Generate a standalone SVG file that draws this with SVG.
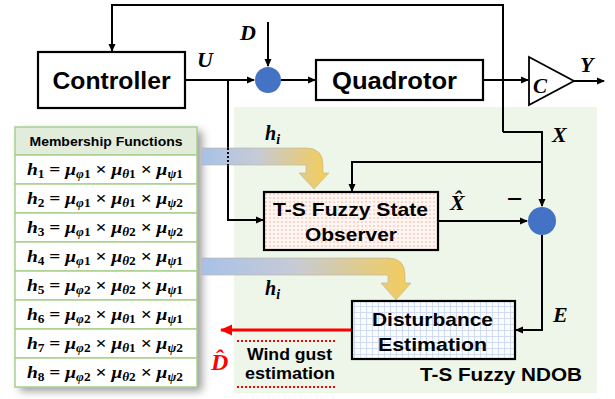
<svg xmlns="http://www.w3.org/2000/svg" width="615" height="399" viewBox="0 0 615 399">
<style>
.ln{fill:none;stroke:#000;stroke-width:2}
.box{fill:#fff;stroke:#000;stroke-width:2.2}
.lbl{font-family:"Liberation Sans",Arial,sans-serif;font-weight:bold;fill:#000;text-anchor:middle}
.math{font-family:"Liberation Serif","Times New Roman",serif;font-weight:bold;font-style:italic;fill:#000}
.eq{font-family:"Liberation Serif","Times New Roman",serif;font-weight:bold;font-size:17.5px;fill:#000}
.it{font-style:italic}
.sub{font-size:12px}
.sum{fill:#4472c4}
.cell{fill:#fff;stroke:#a9d08e;stroke-width:1.5}
</style>
<defs>
<marker id="arr" markerWidth="8" markerHeight="8" refX="7" refY="4" orient="auto" markerUnits="userSpaceOnUse">
<path d="M0,0.5 L8,4 L0,7.5 Z" fill="#000"/>
</marker>
<marker id="arrR" markerWidth="12" markerHeight="12" refX="11" refY="6" orient="auto" markerUnits="userSpaceOnUse">
<path d="M0,0.5 L12,6 L0,11.5 Z" fill="#ff0000"/>
</marker>
<linearGradient id="g1" gradientUnits="userSpaceOnUse" x1="202" y1="0" x2="325" y2="0">
<stop offset="0" stop-color="#a8c1e8"/>
<stop offset="0.45" stop-color="#c6cbd6"/>
<stop offset="1" stop-color="#f2cc5c"/>
</linearGradient>
<linearGradient id="g2" gradientUnits="userSpaceOnUse" x1="202" y1="0" x2="408" y2="0">
<stop offset="0" stop-color="#a8c1e8"/>
<stop offset="0.45" stop-color="#c6cbd6"/>
<stop offset="1" stop-color="#f2cc5c"/>
</linearGradient>
<pattern id="pink" width="4" height="4" patternUnits="userSpaceOnUse">
<rect width="4" height="4" fill="#fff6f2"/>
<circle cx="2" cy="2" r="1.1" fill="#f6cfc4"/>
</pattern>
<pattern id="grid" width="6" height="6" patternUnits="userSpaceOnUse">
<rect width="6" height="6" fill="#fbfcff"/>
<path d="M0,0.5 H6 M0.5,0 V6" stroke="#c9d6ee" stroke-width="0.8"/>
</pattern>
<filter id="sh" x="-10%" y="-10%" width="130%" height="130%">
<feDropShadow dx="5" dy="4" stdDeviation="4" flood-color="#000" flood-opacity="0.4"/>
</filter>
</defs>

<rect id="ndob-bg" x="234" y="107" width="363" height="286" fill="#eef5e9"/>

<g id="connectors">
<path class="ln" d="M503,132 V5 H112 V51" marker-end="url(#arr)"/>
<path class="ln" d="M185,80 H254" marker-end="url(#arr)"/>
<path class="ln" d="M268,22 V66" marker-end="url(#arr)"/>
<path class="ln" d="M281,80 H315" marker-end="url(#arr)"/>
<path class="ln" d="M483,80 H528" marker-end="url(#arr)"/>
<path class="ln" d="M574,81 H604" marker-end="url(#arr)"/>
<path class="ln" d="M503,132 H542 V206" marker-end="url(#arr)"/>
<path class="ln" d="M542,162 H352 V191" marker-end="url(#arr)"/>
<path class="ln" d="M228,80 V220 H263" marker-end="url(#arr)"/>
<path class="ln" d="M438,221 H527" marker-end="url(#arr)"/>
<path class="ln" d="M542,235 V330 H516" marker-end="url(#arr)"/>
<path d="M352,330 H221" fill="none" stroke="#ff0000" stroke-width="3" marker-end="url(#arrR)"/>
<path d="M237,341 H337 M237,387 H337" fill="none" stroke="#ff0000" stroke-width="2" stroke-dasharray="2,2"/>
</g>

<g id="table" filter="url(#sh)">
<rect x="15" y="127" width="182" height="260" fill="#fff"/>
</g>
<g id="table-cells">
<rect x="15" y="127" width="182" height="28" fill="#e2ecdb" stroke="#a9d08e" stroke-width="1.5"/>
<text class="lbl" x="106" y="146" font-size="13.5" textLength="153" lengthAdjust="spacingAndGlyphs">Membership Functions</text>
<rect class="cell" x="15" y="155" width="182" height="29"/>
<rect class="cell" x="15" y="184" width="182" height="29"/>
<rect class="cell" x="15" y="213" width="182" height="29"/>
<rect class="cell" x="15" y="242" width="182" height="29"/>
<rect class="cell" x="15" y="271" width="182" height="29"/>
<rect class="cell" x="15" y="300" width="182" height="29"/>
<rect class="cell" x="15" y="329" width="182" height="29"/>
<rect class="cell" x="15" y="358" width="182" height="29"/>
<text class="eq" x="27" y="175" textLength="156" lengthAdjust="spacingAndGlyphs"><tspan class="it">h</tspan><tspan class="sub" dy="3">1</tspan><tspan dy="-3"> = </tspan><tspan class="it">μ</tspan><tspan class="sub it" dy="3">φ</tspan><tspan class="sub">1</tspan><tspan dy="-3"> × </tspan><tspan class="it">μ</tspan><tspan class="sub it" dy="3">θ</tspan><tspan class="sub">1</tspan><tspan dy="-3"> × </tspan><tspan class="it">μ</tspan><tspan class="sub it" dy="3">ψ</tspan><tspan class="sub">1</tspan></text>
<text class="eq" x="27" y="204" textLength="156" lengthAdjust="spacingAndGlyphs"><tspan class="it">h</tspan><tspan class="sub" dy="3">2</tspan><tspan dy="-3"> = </tspan><tspan class="it">μ</tspan><tspan class="sub it" dy="3">φ</tspan><tspan class="sub">1</tspan><tspan dy="-3"> × </tspan><tspan class="it">μ</tspan><tspan class="sub it" dy="3">θ</tspan><tspan class="sub">1</tspan><tspan dy="-3"> × </tspan><tspan class="it">μ</tspan><tspan class="sub it" dy="3">ψ</tspan><tspan class="sub">2</tspan></text>
<text class="eq" x="27" y="233" textLength="156" lengthAdjust="spacingAndGlyphs"><tspan class="it">h</tspan><tspan class="sub" dy="3">3</tspan><tspan dy="-3"> = </tspan><tspan class="it">μ</tspan><tspan class="sub it" dy="3">φ</tspan><tspan class="sub">1</tspan><tspan dy="-3"> × </tspan><tspan class="it">μ</tspan><tspan class="sub it" dy="3">θ</tspan><tspan class="sub">2</tspan><tspan dy="-3"> × </tspan><tspan class="it">μ</tspan><tspan class="sub it" dy="3">ψ</tspan><tspan class="sub">2</tspan></text>
<text class="eq" x="27" y="262" textLength="156" lengthAdjust="spacingAndGlyphs"><tspan class="it">h</tspan><tspan class="sub" dy="3">4</tspan><tspan dy="-3"> = </tspan><tspan class="it">μ</tspan><tspan class="sub it" dy="3">φ</tspan><tspan class="sub">1</tspan><tspan dy="-3"> × </tspan><tspan class="it">μ</tspan><tspan class="sub it" dy="3">θ</tspan><tspan class="sub">2</tspan><tspan dy="-3"> × </tspan><tspan class="it">μ</tspan><tspan class="sub it" dy="3">ψ</tspan><tspan class="sub">1</tspan></text>
<text class="eq" x="27" y="291" textLength="156" lengthAdjust="spacingAndGlyphs"><tspan class="it">h</tspan><tspan class="sub" dy="3">5</tspan><tspan dy="-3"> = </tspan><tspan class="it">μ</tspan><tspan class="sub it" dy="3">φ</tspan><tspan class="sub">2</tspan><tspan dy="-3"> × </tspan><tspan class="it">μ</tspan><tspan class="sub it" dy="3">θ</tspan><tspan class="sub">2</tspan><tspan dy="-3"> × </tspan><tspan class="it">μ</tspan><tspan class="sub it" dy="3">ψ</tspan><tspan class="sub">1</tspan></text>
<text class="eq" x="27" y="320" textLength="156" lengthAdjust="spacingAndGlyphs"><tspan class="it">h</tspan><tspan class="sub" dy="3">6</tspan><tspan dy="-3"> = </tspan><tspan class="it">μ</tspan><tspan class="sub it" dy="3">φ</tspan><tspan class="sub">2</tspan><tspan dy="-3"> × </tspan><tspan class="it">μ</tspan><tspan class="sub it" dy="3">θ</tspan><tspan class="sub">1</tspan><tspan dy="-3"> × </tspan><tspan class="it">μ</tspan><tspan class="sub it" dy="3">ψ</tspan><tspan class="sub">1</tspan></text>
<text class="eq" x="27" y="349" textLength="156" lengthAdjust="spacingAndGlyphs"><tspan class="it">h</tspan><tspan class="sub" dy="3">7</tspan><tspan dy="-3"> = </tspan><tspan class="it">μ</tspan><tspan class="sub it" dy="3">φ</tspan><tspan class="sub">2</tspan><tspan dy="-3"> × </tspan><tspan class="it">μ</tspan><tspan class="sub it" dy="3">θ</tspan><tspan class="sub">1</tspan><tspan dy="-3"> × </tspan><tspan class="it">μ</tspan><tspan class="sub it" dy="3">ψ</tspan><tspan class="sub">2</tspan></text>
<text class="eq" x="27" y="378" textLength="156" lengthAdjust="spacingAndGlyphs"><tspan class="it">h</tspan><tspan class="sub" dy="3">8</tspan><tspan dy="-3"> = </tspan><tspan class="it">μ</tspan><tspan class="sub it" dy="3">φ</tspan><tspan class="sub">2</tspan><tspan dy="-3"> × </tspan><tspan class="it">μ</tspan><tspan class="sub it" dy="3">θ</tspan><tspan class="sub">2</tspan><tspan dy="-3"> × </tspan><tspan class="it">μ</tspan><tspan class="sub it" dy="3">ψ</tspan><tspan class="sub">2</tspan></text>
</g>

<g id="hi-arrow-1">
<path d="M202,148 H306 Q323,148 323,165 V173 H329 L314,189 L299,173 H306 V165 H202 Z" fill="url(#g1)" stroke="#b9b49a" stroke-width="0.6"/>
<path d="M228,148 V165" stroke="#000" stroke-width="2" stroke-dasharray="2,2"/>
<text class="math" x="265" y="140" font-size="20">h<tspan font-size="14" dy="4">i</tspan></text>
</g>
<g id="hi-arrow-2">
<path d="M202,258 H388 Q405,258 405,275 V283 H411 L396,300 L381,283 H388 V275 H202 Z" fill="url(#g2)" stroke="#b9b49a" stroke-width="0.6"/>
<text class="math" x="265" y="295" font-size="20">h<tspan font-size="14" dy="4">i</tspan></text>
</g>

<g id="controller">
<rect class="box" x="38" y="52" width="147" height="56"/>
<text class="lbl" x="111.5" y="89" font-size="24" textLength="118" lengthAdjust="spacingAndGlyphs">Controller</text>
</g>
<g id="sum1">
<circle class="sum" cx="268" cy="80" r="13"/>
</g>
<g id="quadrotor">
<rect class="box" x="316" y="60" width="167" height="40"/>
<text class="lbl" x="394.5" y="89" font-size="24" textLength="125" lengthAdjust="spacingAndGlyphs">Quadrotor</text>
</g>
<g id="gain-c">
<path d="M529,57 L574,81 L529,105 Z" fill="#fff" stroke="#000" stroke-width="1.8"/>
<text class="math" x="533" y="93" font-size="21">C</text>
</g>
<g id="observer">
<rect x="264" y="192" width="174" height="58" fill="url(#pink)" stroke="#000" stroke-width="2.2"/>
<text class="lbl" x="350.5" y="216" font-size="19" textLength="155" lengthAdjust="spacingAndGlyphs">T-S Fuzzy State</text>
<text class="lbl" x="351" y="241" font-size="19" textLength="92" lengthAdjust="spacingAndGlyphs">Observer</text>
</g>
<g id="sum2">
<circle class="sum" cx="542" cy="221" r="14"/>
</g>
<g id="disturbance">
<rect x="352" y="301" width="163" height="58" fill="url(#grid)" stroke="#000" stroke-width="2.2"/>
<text class="lbl" x="432.5" y="326" font-size="19" textLength="121" lengthAdjust="spacingAndGlyphs">Disturbance</text>
<text class="lbl" x="432.5" y="351" font-size="19" textLength="109" lengthAdjust="spacingAndGlyphs">Estimation</text>
</g>

<g id="labels">
<text class="math" x="197" y="67" font-size="22">U</text>
<text class="math" x="240" y="40" font-size="22">D</text>
<text class="math" x="580" y="72" font-size="22">Y</text>
<text class="math" x="552" y="142" font-size="22">X</text>
<text class="math" x="450" y="210" font-size="22">X̂</text>
<text class="math" x="506" y="208" font-size="28" font-style="normal">−</text>
<text class="math" x="553" y="322" font-size="22">E</text>
<text class="math" x="211" y="370" font-size="24" style="fill:#ff0000">D̂</text>
<text class="lbl" x="289.5" y="360" font-size="16" textLength="85" lengthAdjust="spacingAndGlyphs">Wind gust</text>
<text class="lbl" x="290" y="379" font-size="16" textLength="90" lengthAdjust="spacingAndGlyphs">estimation</text>
<text class="lbl" x="501" y="381" font-size="19" textLength="162" lengthAdjust="spacingAndGlyphs">T-S Fuzzy NDOB</text>
</g>
</svg>
